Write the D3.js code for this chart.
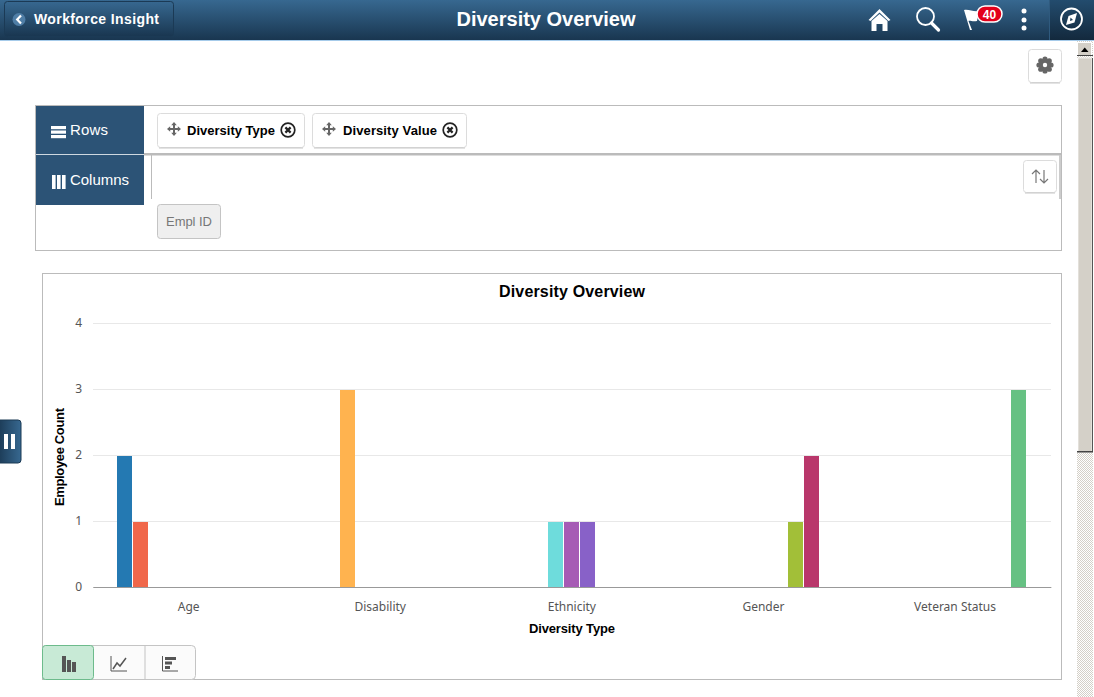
<!DOCTYPE html>
<html><head><meta charset="utf-8">
<script src="https://cdn.jsdelivr.net/npm/d3@7/dist/d3.min.js"></script>
<style>
html,body{margin:0;padding:0;background:#fff;overflow:hidden}
svg{display:block}
text{font-family:"Liberation Sans",Arial,sans-serif}
.tick text{font-family:"Noto Sans",sans-serif}
</style></head><body>
<svg id="c" width="1094" height="697"></svg>
<script>
const categories = ["Age","Disability","Ethnicity","Gender","Veteran Status"];
const seriesNames = ["Value 1","Value 2","Value 3","Value 4","Value 5","Value 6","Value 7","Value 8","Value 9"];
const seriesCategory = ["Age","Age","Disability","Ethnicity","Ethnicity","Ethnicity","Gender","Gender","Veteran Status"];
const seriesValues = [2,1,3,1,1,1,1,2,3];
const seriesColors = ["#2479b2","#f0674a","#ffb34f","#6edcdc","#a65bb5","#8861c8","#a2bf38","#b9376b","#66c183"];
const yTicks = [0,1,2,3,4];

const svg = d3.select("#c");
const defs = svg.append("defs");
const g1 = defs.append("linearGradient").attr("id","hdr").attr("x1",0).attr("x2",0).attr("y1",0).attr("y2",1);
g1.append("stop").attr("offset",0).attr("stop-color","#376890");
g1.append("stop").attr("offset",1).attr("stop-color","#193650");
const g2 = defs.append("linearGradient").attr("id","tab").attr("x1",0).attr("x2",1).attr("y1",0).attr("y2",0);
g2.append("stop").attr("offset",0).attr("stop-color","#193650");
g2.append("stop").attr("offset",1).attr("stop-color","#376890");
const g3 = defs.append("linearGradient").attr("id","cmp").attr("x1",0).attr("x2",0).attr("y1",0).attr("y2",1);
g3.append("stop").attr("offset",0).attr("stop-color","#234c6e");
g3.append("stop").attr("offset",1).attr("stop-color","#13293d");
const pt = defs.append("pattern").attr("id","dith").attr("width",2).attr("height",2).attr("patternUnits","userSpaceOnUse");
pt.append("rect").attr("width",2).attr("height",2).attr("fill","#fff");
pt.append("rect").attr("width",1).attr("height",1).attr("fill","#d4d0c8");
pt.append("rect").attr("x",1).attr("y",1).attr("width",1).attr("height",1).attr("fill","#d4d0c8");

function rect(x,y,w,h,fill,stroke,rx,parent){
  return (parent||svg).append("rect").attr("x",x).attr("y",y).attr("width",w).attr("height",h)
    .attr("fill",fill||"none").attr("stroke",stroke||"none").attr("rx",rx||0);
}
function txt(x,y,s,size,weight,fill,anchor,len){
  const t = svg.append("text").attr("x",x).attr("y",y).text(s).attr("font-size",size)
    .attr("font-weight",weight||"normal").attr("fill",fill||"#000").attr("text-anchor",anchor||"start");
  if(len) t.attr("textLength",len);
  return t;
}

/* ---------- header ---------- */
rect(0,0,1094,40,"url(#hdr)");
rect(0,40,1094,1,"#a6cbea");
rect(1049,0,45,40,"url(#cmp)");
rect(1049,0,1,40,"#2f5a7e");
rect(4.5,1.5,169,35,"url(#hdr)","#1b3a55",3);
svg.append("circle").attr("cx",19).attr("cy",19.5).attr("r",6.5).attr("fill","#4f7ea6");
svg.append("path").attr("d","M21 15.5L17.2 19.5L21 23.5").attr("fill","none").attr("stroke","#fff").attr("stroke-width",2.2);
txt(34,24,"Workforce Insight",14,"bold","#fff","start",125);
txt(546,26,"Diversity Overview",20,"bold","#fff","middle");
// home
svg.append("path").attr("d","M868.5 20L879.5 9L890.5 20L888.5 21L879.5 12.5L870.5 21Z M871.5 21L879.5 14L887.5 21V31H882.5V24H876.5V31H871.5Z").attr("fill","#fff");
// search
svg.append("circle").attr("cx",925.5).attr("cy",16.5).attr("r",8.5).attr("fill","none").attr("stroke","#fff").attr("stroke-width",1.8);
svg.append("path").attr("d","M931.5 23L938.5 30").attr("stroke","#fff").attr("stroke-width",3.2).attr("stroke-linecap","round");
// flag + badge
svg.append("path").attr("d","M964 10C969 9 973 12 979 11L977 21C972 22 970 20 968.5 21L972 30L970 30Z").attr("fill","#fff");
rect(977,6,25,16,"#e3001b","#fff",8).attr("stroke-width",1.5);
txt(989.5,19,"40",12,"bold","#fff","middle");
// kebab
[11,20,28].forEach(cy=>svg.append("circle").attr("cx",1024).attr("cy",cy).attr("r",2.5).attr("fill","#fff"));
// compass
svg.append("circle").attr("cx",1071.5).attr("cy",19).attr("r",10.5).attr("fill","none").attr("stroke","#fff").attr("stroke-width",1.8);
svg.append("path").attr("d","M1077 13L1074.5 22.5L1066 25L1068.5 16Z").attr("fill","#fff");
svg.append("path").attr("d","M1070.5 17.5L1073 20L1070 21Z").attr("fill","#1d3d59");

/* ---------- scrollbar ---------- */
rect(1077,41,16,656,"url(#dith)");
rect(1077.5,42.5,14,13,"#d4d0c8","#fff");
rect(1077,55,16,1,"#444");
svg.append("path").attr("d","M1081 52L1088.5 52L1084.75 47.5Z").attr("fill","#000");
rect(1078,58,14,394,"#d4d0c8","#f2f0ec");
rect(1077,58,1,394,"#fff");
rect(1092,58,1,394,"#555");
rect(1077,451,16,1.5,"#444");

/* ---------- gear button ---------- */
function button(x,y,w,h){ rect(x+.5,y+.5,w,h,"#fff","#dcdcdc",3); rect(x+2,y+h+.5,w-3,1,"#c8c8c8"); }
button(1028,49,33,33);
const gear = d3.range(8).map(i=>{
  const a=i*Math.PI/4, p=[1045+Math.cos(a)*6,65+Math.sin(a)*6];
  return `<circle cx="${p[0]}" cy="${p[1]}" r="2.6" fill="#666"/>`;}).join("")
  + `<circle cx="1045" cy="65" r="6" fill="#666"/><circle cx="1045" cy="65" r="2.2" fill="#fff"/>`;
svg.append("g").html(gear);

/* ---------- rows / columns panel ---------- */
rect(35.5,105.5,1026,145,"#fff","#bbb");
rect(36,106,108,48,"#2c5376");
rect(36,155,108,50,"#2c5376");
rect(36,154,108,1,"#cfd8e0");
rect(144,153,917,2.5,"#bbb");
rect(151,155,1,44,"#bbb");
rect(1059,155,2,44,"#ccc");
[124,128.5,133].forEach(y=>rect(51,y+2,15,3.2,"#fff"));
[52,57,62].forEach(x=>rect(x,175,3.6,14,"#fff"));
txt(70,135,"Rows",15,"normal","#fff","start",38);
txt(70,185,"Columns",15,"normal","#fff","start",59);

function moveIcon(cx,cy){
  svg.append("path").attr("d",`M${cx} ${cy-7}L${cx+2.8} ${cy-3.8}H${cx+1}V${cy-1}H${cx+3.8}V${cy-2.8}L${cx+7} ${cy}L${cx+3.8} ${cy+2.8}V${cy+1}H${cx+1}V${cy+3.8}H${cx+2.8}L${cx} ${cy+7}L${cx-2.8} ${cy+3.8}H${cx-1}V${cy+1}H${cx-3.8}V${cy+2.8}L${cx-7} ${cy}L${cx-3.8} ${cy-2.8}V${cy-1}H${cx-1}V${cy-3.8}H${cx-2.8}Z`).attr("fill","#666");
}
function closeIcon(cx,cy){
  svg.append("circle").attr("cx",cx).attr("cy",cy).attr("r",6.8).attr("fill","#fff").attr("stroke","#222").attr("stroke-width",1.7);
  svg.append("path").attr("d",`M${cx-2.6} ${cy-2.6}L${cx+2.6} ${cy+2.6}M${cx+2.6} ${cy-2.6}L${cx-2.6} ${cy+2.6}`).attr("stroke","#222").attr("stroke-width",2.2);
}
button(157,113,147,34);
moveIcon(174,129); txt(187,135,"Diversity Type",13,"bold","#000","start",88); closeIcon(288,130);
button(312,113,154,34);
moveIcon(329,129); txt(343,135,"Diversity Value",13,"bold","#000","start",94); closeIcon(450,130);
rect(157.5,204.5,63,34,"#efefef","#c4c4c4",3);
txt(166,226,"Empl ID",13,"normal","#777","start",46);
button(1023,160,33,32);
svg.append("path").attr("d","M1036 183V170M1032 174L1036 170L1040 174M1044 170V183M1040 179L1044 183L1048 179").attr("fill","none").attr("stroke","#777").attr("stroke-width",1.2);

/* ---------- chart frame ---------- */
rect(42.5,273.5,1019,406,"#fff","#bbb");
txt(572,297,"Diversity Overview",16,"bold","#000","middle",146);

const x0 = d3.scaleBand().domain(categories).range([92.85,1050.85]);
const x1 = d3.scaleBand().domain(d3.range(seriesNames.length)).range([24,x0.bandwidth()-23.6]);
const y = d3.scaleLinear().domain([0,4]).range([587,323]);

// grid + y axis
const yAxis = svg.append("g").attr("transform","translate(93,0)")
  .call(d3.axisLeft(y).tickValues(yTicks).tickSize(-958).tickPadding(11).tickFormat(d3.format("d")));
yAxis.select(".domain").remove();
yAxis.selectAll(".tick line").attr("stroke","#e8e8e8");
yAxis.selectAll(".tick text").attr("font-size",12).attr("fill","#555");

// bars
svg.append("g").selectAll("rect").data(seriesValues).join("rect")
  .attr("x",(d,i)=>Math.round(x0(seriesCategory[i])+x1(i)))
  .attr("width",x1.bandwidth()-1)
  .attr("y",d=>y(d)+1)
  .attr("height",d=>y(0)-y(d)-1)
  .attr("fill",(d,i)=>seriesColors[i]);

// x axis
const xAxis = svg.append("g").attr("transform","translate(0,587)")
  .call(d3.axisBottom(x0).tickSize(0).tickPadding(15));
xAxis.select(".domain").attr("stroke","#999");
xAxis.selectAll(".tick text").attr("font-size",12).attr("fill","#555");

txt(572,633,"Diversity Type",13,"bold","#000","middle",86);
svg.append("text").attr("transform","translate(64,457) rotate(-90)")
  .attr("text-anchor","middle").attr("font-size",13).attr("font-weight","bold").attr("textLength",98).text("Employee Count");

/* ---------- chart-type buttons ---------- */
rect(42.5,645.5,153,34,"#fbfbfb","#c4c4c4",4);
rect(42.5,645.5,51,34,"#c8ead6","#6dbb8c",3);
rect(144.5,646,1,33,"#c4c4c4");
rect(62,656,4,16,"#555"); rect(67,660,4,12,"#555"); rect(72,662,4,10,"#555");
svg.append("path").attr("d","M111 656V671H127").attr("fill","none").attr("stroke","#555");
svg.append("path").attr("d","M113 669L117 663L120 666L126 658").attr("fill","none").attr("stroke","#555").attr("stroke-width",1.5);
svg.append("path").attr("d","M162.5 656V671H178").attr("fill","none").attr("stroke","#555");
rect(165,657,11,3,"#555"); rect(165,661.5,7,3,"#555"); rect(165,666,5,3,"#555");

/* ---------- side tab ---------- */
rect(-4,420,25,43,"url(#tab)","#1b3a55",3);
rect(4,434,4,15,"#fff"); rect(11,434,4,15,"#fff");
</script>
</body></html>
